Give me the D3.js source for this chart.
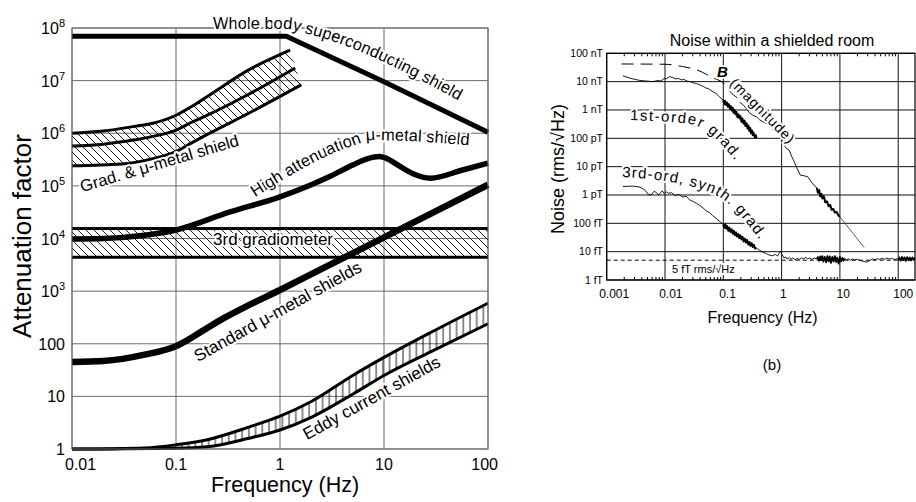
<!DOCTYPE html>
<html><head><meta charset="utf-8">
<script src="https://cdn.jsdelivr.net/npm/d3@7"></script>
<style>
body{margin:0;background:#fff;}
svg{display:block;font-family:"Liberation Sans",Arial,sans-serif;}
.halo{paint-order:stroke;stroke:#fff;stroke-width:4px;stroke-linejoin:round;fill:#000;}
</style></head><body>
<svg id="c" width="916" height="502"></svg>
<script>
// ================= DATA : panel (a) =================
const freqTicksA = [0.01, 0.1, 1, 10, 100];
const freqLabelsA = ["0.01", "0.1", "1", "10", "100"];
const attTicks = [1, 10, 100, 1e3, 1e4, 1e5, 1e6, 1e7, 1e8];
const attLabelBase = ["1", "10", "100", "10", "10", "10", "10", "10", "10"];
const attLabelExp = ["", "", "", "3", "4", "5", "6", "7", "8"];

const wholeBody = [[0.01,7e7],[1.15,7e7],[10,9.5e6],[100,1.05e6]];
const gradTop = [[0.01,1.0e6],[0.02,1.1e6],[0.04,1.35e6],[0.06,1.55e6],[0.1,2.2e6],[0.14,3.2e6],[0.2,5.0e6],[0.5,1.6e7],[1.25,3.8e7]];
const gradMid = [[0.01,5.7e5],[0.02,6.2e5],[0.04,7.5e5],[0.065,9e5],[0.1,1.15e6],[0.14,1.6e6],[0.2,2.2e6],[0.5,5.5e6],[1.4,1.74e7]];
const gradBot = [[0.01,2.4e5],[0.03,2.6e5],[0.06,3.3e5],[0.1,4.5e5],[0.14,6.5e5],[0.2,9.5e5],[0.5,2.4e6],[1.6,8.3e6]];
const highAtt = [[0.01,9.8e3],[0.02,1.0e4],[0.05,1.15e4],[0.1,1.45e4],[0.33,3.2e4],[1,6.2e4],[2,1.05e5],[3,1.5e5],[5,2.5e5],[7,3.3e5],[9,3.6e5],[11,3.2e5],[14,2.4e5],[19,1.7e5],[28,1.4e5],[57,2.0e5],[100,2.7e5]];
const thirdGradLevels = [1.55e4, 4.4e3];
const standardMu = [[0.01,45],[0.02,47],[0.05,62],[0.1,90],[0.15,140],[0.2,200],[0.3,320],[0.5,540],[1,1050],[2,2100],[10,1.05e4],[100,1.05e5]];
const eddyTop = [[0.01,1],[0.05,1.05],[0.1,1.2],[0.2,1.5],[0.5,2.6],[1,4.2],[2,8],[5,25],[10,55],[30,175],[100,590]];
const eddyBot = [[0.01,1],[0.1,1.03],[0.2,1.1],[0.5,1.6],[1,2.3],[2,4],[5,11],[10,25],[30,75],[100,240]];

// ================= DATA : panel (b) =================
const freqTicksB = [0.001, 0.01, 0.1, 1, 10, 100];
const freqLabelsB = ["0.001", "0.01", "0.1", "1", "10", "100"];
const noiseTicks = [1e-7,1e-8,1e-9,1e-10,1e-11,1e-12,1e-13,1e-14,1e-15];
const noiseLabels = ["100 nT","10 nT","1 nT","100 pT","10 pT","1 pT","100 fT","10 fT","1 fT"];

const bModel = [[0.0018,4.2e-8],[0.01,4.1e-8],[0.02,3.4e-8],[0.035,2.6e-8],[0.07,1.3e-8],[0.1,9e-9],[0.13,4.5e-9],[0.2,2.2e-9]];
const bMeasured = [[0.19,1.9e-9],[0.22,1.5e-9],[0.25,1.1e-9],[0.28,8e-10],[0.32,6.5e-10],[0.37,5.8e-10],[0.42,4.5e-10],[0.48,3.8e-10],[0.55,3.4e-10],[0.62,2.6e-10],[0.7,2.1e-10],[0.8,1.7e-10],[0.9,1.5e-10],[1.0,1.0e-10],[1.1,5.7e-11],[1.2,4.5e-11],[1.35,3.8e-11],[1.5,2.2e-11],[1.6,1.7e-11],[1.75,1.1e-11],[1.9,7.5e-12],[2.1,5e-12],[2.4,4.8e-12],[2.8,4.4e-12],[3.2,3.0e-12],[3.6,2.2e-12],[4.0,1.8e-12]];
const bMeasuredNoisy = [[4,1.8e-12],[4.2,1.2e-12],[4.4,1.5e-12],[4.6,0.9e-12],[4.8,1.1e-12],[5,0.75e-12],[5.3,0.9e-12],[5.6,0.55e-12],[6,0.6e-12],[6.4,0.4e-12],[6.8,0.45e-12],[7.2,0.3e-12],[7.7,0.32e-12],[8.2,0.24e-12],[8.8,0.25e-12],[9.4,0.19e-12],[10,0.17e-12]];
const bTail = [[10,1.7e-13],[26,1.4e-14]];

const firstOrd = [[0.0019,1.6e-8],[0.0026,1.3e-8],[0.0037,1.1e-8],[0.0048,1.05e-8],[0.0062,1.0e-8],[0.0075,1.1e-8],[0.0085,1.05e-8],[0.0095,1.25e-8],[0.0108,1.3e-8],[0.012,1.5e-8],[0.0137,1.4e-8],[0.015,1.25e-8],[0.017,1.3e-8],[0.019,1.15e-8],[0.021,1.2e-8],[0.0238,1.05e-8],[0.027,1.0e-8],[0.031,9e-9],[0.035,8.5e-9],[0.0398,7.6e-9],[0.045,6.8e-9],[0.05,6.0e-9],[0.056,5.6e-9],[0.0665,4.4e-9],[0.075,3.8e-9],[0.085,3.0e-9],[0.1,2.2e-9]];
const firstOrdNoisy = [[0.100,2.2e-9],[0.104,1.6e-9],[0.108,2.1e-9],[0.112,1.5e-9],[0.116,1.8e-9],[0.12,1.3e-9],[0.125,1.6e-9],[0.13,1.1e-9],[0.135,1.35e-9],[0.14,0.95e-9],[0.145,1.2e-9],[0.15,0.8e-9],[0.156,1.0e-9],[0.162,0.7e-9],[0.168,0.85e-9],[0.175,0.55e-9],[0.182,0.7e-9],[0.19,0.5e-9],[0.197,0.6e-9],[0.205,0.38e-9],[0.213,0.5e-9],[0.222,0.33e-9],[0.231,0.42e-9],[0.24,0.27e-9],[0.25,0.34e-9],[0.26,0.22e-9],[0.27,0.28e-9],[0.28,0.18e-9],[0.29,0.23e-9],[0.30,0.15e-9],[0.31,0.19e-9],[0.32,0.13e-9],[0.33,0.16e-9],[0.345,0.11e-9],[0.36,0.13e-9],[0.37,0.1e-9]];

const thirdOrd = [[0.0019,2.0e-12],[0.0028,2.05e-12],[0.0037,1.9e-12],[0.0045,1.5e-12],[0.0052,1.05e-12],[0.0058,1.0e-12],[0.0065,1.35e-12],[0.0072,1.2e-12],[0.0078,1.0e-12],[0.0085,1.25e-12],[0.009,1.4e-12],[0.0097,1.1e-12],[0.0105,1.3e-12],[0.0115,1.15e-12],[0.013,1.2e-12],[0.015,0.95e-12],[0.017,1.05e-12],[0.02,0.85e-12],[0.023,0.9e-12],[0.027,0.65e-12],[0.03,0.6e-12],[0.035,0.5e-12],[0.04,0.42e-12],[0.045,0.35e-12],[0.05,0.28e-12],[0.058,0.24e-12],[0.065,0.19e-12],[0.075,0.15e-12],[0.085,0.12e-12],[0.1,0.09e-12]];
const thirdOrdNoisy = [[0.1,9e-14],[0.104,7e-14],[0.108,9.5e-14],[0.112,6.5e-14],[0.117,8e-14],[0.122,5.5e-14],[0.127,7e-14],[0.133,5e-14],[0.139,6.2e-14],[0.145,4.3e-14],[0.151,5.5e-14],[0.158,3.8e-14],[0.165,4.8e-14],[0.172,3.4e-14],[0.18,4.2e-14],[0.188,3e-14],[0.196,3.8e-14],[0.205,2.7e-14],[0.214,3.3e-14],[0.224,2.3e-14],[0.234,2.9e-14],[0.245,2.1e-14],[0.256,2.6e-14],[0.268,1.8e-14],[0.28,2.2e-14],[0.293,1.6e-14],[0.306,2.0e-14],[0.32,1.45e-14],[0.335,1.75e-14],[0.35,1.3e-14],[0.37,1.35e-14]];
const floorThin1 = [[0.37,1.35e-14],[0.42,1.1e-14],[0.48,9.5e-15],[0.55,8.5e-15],[0.62,7.5e-15],[0.7,7.2e-15],[0.78,8e-15],[0.85,7e-15],[0.9,8.5e-15],[0.95,1.0e-14],[1.0,8.5e-15],[1.05,7e-15],[1.1,6e-15],[1.18,6.5e-15],[1.25,5.5e-15],[1.35,6.2e-15],[1.45,5.4e-15],[1.55,6e-15],[1.7,5.2e-15],[1.85,5.8e-15],[2.0,5.3e-15],[2.2,6e-15],[2.4,5.6e-15],[2.6,6.3e-15],[2.8,5.5e-15],[3.0,6.0e-15],[3.3,5.4e-15],[3.6,5.9e-15],[4,5.5e-15]];
const floorNoisy1 = [[4,5.5e-15],[4.2,6.5e-15],[4.4,4.8e-15],[4.6,6.8e-15],[4.8,5e-15],[5,7e-15],[5.2,4.5e-15],[5.5,6.5e-15],[5.8,4.2e-15],[6.1,7e-15],[6.4,4.6e-15],[6.7,6.8e-15],[7,4e-15],[7.4,6.5e-15],[7.8,4.5e-15],[8.2,7e-15],[8.6,4.3e-15],[9,6.2e-15],[9.5,3.8e-15],[10,6.5e-15],[10.5,4.5e-15],[11,6e-15],[11.5,4.8e-15],[12,5.8e-15]];
const floorThin2 = [[12,5.8e-15],[13,5.2e-15],[14,5.6e-15],[15,5.0e-15],[16.5,5.5e-15],[18,5.1e-15],[20,5.4e-15],[22,4.9e-15],[25,4.6e-15],[28,4.3e-15],[30,4.4e-15],[33,5e-15],[36,5.5e-15],[40,5.2e-15],[44,5.7e-15],[48,5.3e-15],[53,5.8e-15],[58,5.4e-15],[64,5.9e-15],[70,5.5e-15],[77,5.8e-15],[85,5.3e-15],[95,5.6e-15],[100,5.0e-15]];
const floorNoisy2 = [[100,5.0e-15],[105,6.2e-15],[110,4.8e-15],[116,6.5e-15],[122,5e-15],[128,6.3e-15],[135,4.7e-15],[142,6.4e-15],[150,5e-15],[158,6.2e-15],[166,4.9e-15],[175,6.3e-15],[184,5.1e-15],[194,6e-15],[204,5.2e-15]];
const refLevel = 5e-15;

// ================= DRAWING =================
const svg = d3.select("#c");
const defs = svg.append("defs");
const pD = defs.append("pattern").attr("id","hatchD").attr("patternUnits","userSpaceOnUse").attr("width",8).attr("height",8);
pD.append("path").attr("d","M-2,-2L10,10M-2,6L2,10M6,-2L10,2").attr("stroke","#000").attr("stroke-width",0.9);
const pV = defs.append("pattern").attr("id","hatchV").attr("patternUnits","userSpaceOnUse").attr("width",6.7).attr("height",10);
pV.append("line").attr("x1",1).attr("x2",1).attr("y1",0).attr("y2",10).attr("stroke","#000").attr("stroke-width",0.9);

// ---------- panel (a) ----------
const xA = d3.scaleLog().domain([0.01,100]).range([72,488]);
const yA = d3.scaleLog().domain([1,1e8]).range([449,28]);
const gA = svg.append("g");
const smoothA = d3.line().x(d=>xA(d[0])).y(d=>yA(d[1])).curve(d3.curveMonotoneX);
const linA = d3.line().x(d=>xA(d[0])).y(d=>yA(d[1]));

gA.selectAll("line.vg").data(freqTicksA).join("line").attr("class","vg")
  .attr("x1",d=>xA(d)).attr("x2",d=>xA(d)).attr("y1",yA(1e8)).attr("y2",yA(1))
  .attr("stroke","#6a6a6a").attr("stroke-width",1);
gA.selectAll("line.hg").data(attTicks).join("line").attr("class","hg")
  .attr("x1",xA(0.01)).attr("x2",xA(100)).attr("y1",d=>yA(d)).attr("y2",d=>yA(d))
  .attr("stroke","#6a6a6a").attr("stroke-width",1);

// hatched bands
function bandPath(line, top, bot){
  const a = line(top), b = line(bot.slice().reverse());
  return a + "L" + b.slice(1) + "Z";
}
gA.append("path").attr("d", bandPath(smoothA, gradTop, gradBot)).attr("fill","url(#hatchD)");
gA.append("rect").attr("x",xA(0.01)).attr("width",xA(100)-xA(0.01))
  .attr("y",yA(thirdGradLevels[0])).attr("height",yA(thirdGradLevels[1])-yA(thirdGradLevels[0]))
  .attr("fill","url(#hatchD)");
gA.append("path").attr("d", bandPath(smoothA, eddyTop, eddyBot)).attr("fill","url(#hatchV)");

function curveA(data, w, gen){
  gA.append("path").attr("d",(gen||smoothA)(data)).attr("fill","none").attr("stroke","#000")
    .attr("stroke-width",w).attr("stroke-linejoin","round");
}
curveA(gradTop,3); curveA(gradMid,3); curveA(gradBot,3);
thirdGradLevels.forEach(v=>curveA([[0.01,v],[100,v]],3,linA));
curveA(eddyTop,3); curveA(eddyBot,3);
curveA(highAtt,5.5);
curveA(standardMu,6.5);
curveA(wholeBody,5,linA);

// frame
gA.append("rect").attr("x",xA(0.01)).attr("y",yA(1e8)).attr("width",xA(100)-xA(0.01)).attr("height",yA(1)-yA(1e8))
  .attr("fill","none").attr("stroke","#6a6a6a").attr("stroke-width",1);

// tick labels
gA.selectAll("text.yl").data(attTicks).join("text").attr("class","yl")
  .attr("x",65).attr("y",d=>yA(d)+6).attr("text-anchor","end").attr("font-size",16)
  .each(function(d,i){
    const t=d3.select(this);
    t.append("tspan").text(attLabelBase[i]);
    if(attLabelExp[i]) t.append("tspan").attr("dy",-7).attr("font-size",11).text(attLabelExp[i]);
  });
gA.selectAll("text.xl").data(freqTicksA).join("text").attr("class","xl")
  .attr("x",(d,i)=> i===0 ? xA(d)-7 : (i===freqTicksA.length-1 ? xA(d)+10 : xA(d)))
  .attr("y",470).attr("font-size",16)
  .attr("text-anchor",(d,i)=> i===0 ? "start" : (i===freqTicksA.length-1 ? "end" : "middle"))
  .text((d,i)=>freqLabelsA[i]);
gA.append("text").attr("x",285).attr("y",492).attr("text-anchor","middle").attr("font-size",21.5).text("Frequency (Hz)");
gA.append("text").attr("transform","translate(31,236) rotate(-90)").attr("text-anchor","middle").attr("font-size",26).text("Attenuation factor");

// curve labels
let pid=0;
function pathLabel(g, pts, xs, ys, text, size, ls){
  const id="lp"+(pid++);
  const d = d3.line().x(p=>xs(p[0])).y(p=>ys(p[1])).curve(d3.curveMonotoneX)(pts);
  defs.append("path").attr("id",id).attr("d",d);
  g.append("text").attr("class","halo").attr("font-size",size).attr("letter-spacing",ls||0)
    .append("textPath").attr("href","#"+id).text(text);
}
function rotLabel(g, x, y, ang, text, size, ls, extra){
  const t = g.append("text").attr("class","halo").attr("transform",`translate(${x},${y}) rotate(${ang})`)
    .attr("font-size",size).attr("letter-spacing",ls||0).text(text);
  if(extra) extra(t);
  return t;
}
pathLabel(gA, [[0.227,9.6e7],[1.12,9.6e7],[1.56,8.4e7],[60,3.6e6]], xA, yA, "Whole body superconducting shield", 16.5);
rotLabel(gA, xA(0.0125), yA(7.6e4), -16.5, "Grad. & μ-metal shield", 16.5);
pathLabel(gA, [[0.575,6.1e4],[5.26,6.0e5],[7.66,7.4e5],[84,5.7e5]], xA, yA, "High attenuation μ-metal shield", 16.5);
rotLabel(gA, xA(0.227), yA(7.5e3), 0, "3rd gradiometer", 17);
rotLabel(gA, xA(0.163), yA(44.7), -29, "Standard μ-metal shields", 17);
rotLabel(gA, xA(1.82), yA(1.47), -29, "Eddy current shields", 17);

// ---------- panel (b) ----------
const xB = d3.scaleLog().domain([1e-3,194]).range([606.7,915]);
const yB = d3.scaleLog().domain([1e-15,1e-7]).range([280,53.3]);
const gB = svg.append("g");
defs.append("clipPath").attr("id","clipB").append("rect")
  .attr("x",xB(1e-3)).attr("y",yB(1e-7)).attr("width",xB(194)-xB(1e-3)).attr("height",yB(1e-15)-yB(1e-7));
const linB = d3.line().x(d=>xB(d[0])).y(d=>yB(d[1]));
const smoothB = d3.line().x(d=>xB(d[0])).y(d=>yB(d[1])).curve(d3.curveMonotoneX);

gB.selectAll("line.vg").data(freqTicksB).join("line").attr("class","vg")
  .attr("x1",d=>xB(d)).attr("x2",d=>xB(d)).attr("y1",yB(1e-7)).attr("y2",yB(1e-15))
  .attr("stroke","#111").attr("stroke-width",1);
gB.selectAll("line.hg").data(noiseTicks).join("line").attr("class","hg")
  .attr("x1",xB(1e-3)).attr("x2",xB(194)).attr("y1",d=>yB(d)).attr("y2",d=>yB(d))
  .attr("stroke","#111").attr("stroke-width",1);

const cB = gB.append("g").attr("clip-path","url(#clipB)");
cB.append("path").attr("d",linB([[1e-3,refLevel],[194,refLevel]])).attr("fill","none")
  .attr("stroke","#000").attr("stroke-width",1).attr("stroke-dasharray","4,3");
function curveB(data,w,gen,dash,col){
  const p=cB.append("path").attr("d",(gen||linB)(data)).attr("fill","none").attr("stroke",col||"#000")
    .attr("stroke-width",w).attr("stroke-linejoin","round");
  if(dash) p.attr("stroke-dasharray",dash);
}
curveB(bModel,1,smoothB,"12,7");
curveB(bMeasured,0.9);
curveB(bMeasuredNoisy,2);
curveB(bTail,0.8,linB,null,"#333");
curveB(firstOrd,0.9);
curveB(firstOrdNoisy,2);
curveB(thirdOrd,0.9);
curveB(thirdOrdNoisy,2);
curveB(floorThin1,0.9);
curveB(floorNoisy1,1.8);
curveB(floorThin2,0.9);
curveB(floorNoisy2,1.8);

// labels (b)
pathLabel(gB, [[0.0025,4.4e-10],[0.0268,3.2e-10],[0.0485,1.95e-10],[0.158,1.7e-11]], xB, yB, "1st-order grad.", 15, 1.5);
pathLabel(gB, [[0.00183,4.3e-12],[0.0195,2.4e-12],[0.12,5.1e-13],[0.427,2.5e-14]], xB, yB, "3rd-ord, synth. grad.", 15, 1.2);
rotLabel(gB, xB(0.078), yB(1.46e-8), 0, "B", 15, 0, t=>t.attr("font-weight","bold").attr("font-style","italic"));
rotLabel(gB, xB(0.125), yB(8.2e-9), 45, "(magnitude)", 14, 1);
rotLabel(gB, xB(0.0132), yB(1.7e-15), 0, "5 fT rms/√Hz", 11, 0);

// frame + minor ticks
gB.append("rect").attr("x",xB(1e-3)).attr("y",yB(1e-7)).attr("width",xB(194)-xB(1e-3)).attr("height",yB(1e-15)-yB(1e-7))
  .attr("fill","none").attr("stroke","#000").attr("stroke-width",1.2);
const minors = xB.ticks().filter(v=>v>1e-3 && v<194 && !freqTicksB.includes(v) && Math.abs(Math.log10(v)-Math.round(Math.log10(v)))>1e-6);
gB.selectAll("line.mt").data(minors).join("line").attr("class","mt")
  .attr("x1",d=>xB(d)).attr("x2",d=>xB(d)).attr("y1",yB(1e-7)).attr("y2",yB(1e-7)+3).attr("stroke","#000");
gB.selectAll("line.mb").data(minors).join("line").attr("class","mb")
  .attr("x1",d=>xB(d)).attr("x2",d=>xB(d)).attr("y1",yB(1e-15)).attr("y2",yB(1e-15)-3).attr("stroke","#000");

gB.selectAll("text.yl").data(noiseTicks).join("text").attr("class","yl")
  .attr("x",603).attr("y",d=>yB(d)+3.5).attr("text-anchor","end").attr("font-size",10.5)
  .text((d,i)=>noiseLabels[i]);
gB.selectAll("text.xl").data(freqTicksB).join("text").attr("class","xl")
  .attr("x",d=>xB(d)).attr("y",298).attr("text-anchor","middle").attr("font-size",12)
  .text((d,i)=>freqLabelsB[i])
  .attr("dx",function(){return 0.25*this.getComputedTextLength();});
gB.append("text").attr("x",772).attr("y",46).attr("text-anchor","middle").attr("font-size",16).text("Noise within a shielded room");
gB.append("text").attr("x",762.5).attr("y",323).attr("text-anchor","middle").attr("font-size",16).text("Frequency (Hz)");
gB.append("text").attr("x",772).attr("y",370).attr("text-anchor","middle").attr("font-size",15).text("(b)");
gB.append("text").attr("transform","translate(564,169) rotate(-90)").attr("text-anchor","middle").attr("font-size",18).text("Noise (rms/√Hz)");
</script>
</body></html>
